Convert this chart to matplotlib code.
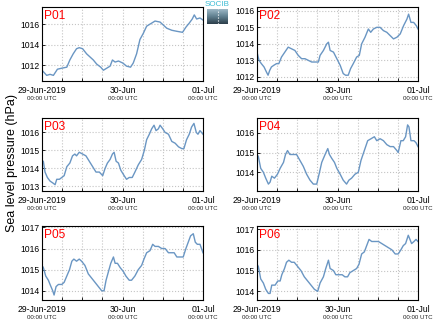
import datetime as dt

import matplotlib.dates as mdates
import matplotlib.pyplot as plt
import numpy as np
from matplotlib.colors import LinearSegmentedColormap

plt.rcParams["font.family"] = ["Liberation Sans", "DejaVu Sans"]

START = dt.datetime(2019, 6, 29)
station_names = ["P01", "P02", "P03", "P04", "P05", "P06"]

# hours since 29-Jun-2019 00:00 UTC, and sea level pressure (hPa)
p01_hours = [0.0, 1.4, 2.4, 3.4, 4.6, 5.9, 7.4, 8.3, 9.3, 10.3, 11.1, 12.1, 13.3, 14.3,
             15.3, 16.3, 17.5, 18.3, 19.3, 20.3, 21.0, 21.8, 22.8, 24.1, 25.2, 26.4,
             27.2, 28.2, 29.2, 30.2, 31.2, 32.7, 33.7, 35.2, 36.2, 37.2, 38.7, 40.2,
             41.9, 42.9, 43.9, 44.8, 45.4, 46.1, 47.1, 48.0]
p01_slp = [1011.5, 1011.0, 1011.1, 1011.0, 1011.6, 1011.7, 1011.8, 1012.5, 1013.1,
           1013.6, 1013.7, 1013.6, 1013.1, 1012.8, 1012.5, 1012.1, 1011.8, 1011.5,
           1011.7, 1011.9, 1012.5, 1012.3, 1012.4, 1012.2, 1011.9, 1011.8, 1012.2,
           1013.1, 1014.5, 1015.1, 1015.8, 1016.1, 1016.3, 1016.2, 1015.9, 1015.6,
           1015.4, 1015.3, 1015.2, 1015.7, 1016.1, 1016.5, 1016.9, 1016.5, 1016.6,
           1016.4]

p02_hours = [0.0, 0.6, 1.3, 2.1, 2.8, 3.3, 3.8, 4.3, 5.0, 5.8, 6.5, 7.3, 8.3, 9.3, 10.3,
             11.3, 12.3, 13.3, 14.3, 15.3, 16.3, 17.3, 18.3, 18.8, 19.8, 20.8, 21.3,
             21.8, 22.8, 23.8, 24.8, 25.7, 26.4, 27.2, 27.9, 28.7, 29.7, 30.5, 31.2,
             32.2, 33.2, 33.9, 34.7, 35.7, 36.7, 37.7, 38.7, 39.7, 40.7, 41.7, 42.7,
             43.7, 44.7, 45.2, 45.9, 46.7, 47.5, 48.0]
p02_slp = [1013.5, 1013.0, 1012.8, 1012.6, 1012.3, 1012.1, 1012.4, 1012.6, 1012.7,
           1012.8, 1012.8, 1013.2, 1013.5, 1013.8, 1013.7, 1013.6, 1013.3, 1013.1,
           1013.1, 1013.0, 1012.9, 1012.9, 1012.9, 1013.3, 1013.6, 1014.0, 1014.1,
           1013.6, 1013.5, 1013.1, 1012.7, 1012.2, 1012.1, 1012.1, 1012.5, 1012.8,
           1013.2, 1013.3, 1014.0, 1014.4, 1014.9, 1014.7, 1014.9, 1015.0, 1015.0,
           1014.8, 1014.7, 1014.5, 1014.3, 1014.4, 1014.6, 1015.1, 1015.5, 1015.8,
           1015.3, 1015.3, 1015.1, 1014.9]

p03_hours = [0.0, 0.4, 0.9, 1.6, 2.4, 3.2, 3.9, 4.4, 5.2, 5.9, 6.6, 7.4, 8.3, 9.1, 9.8,
             10.3, 11.1, 12.1, 13.1, 14.1, 15.1, 16.1, 17.1, 18.1, 18.8, 19.5, 20.3,
             21.0, 21.5, 22.1, 22.8, 23.5, 24.5, 25.2, 26.0, 26.9, 27.7, 28.7, 29.7,
             30.5, 31.2, 32.0, 32.7, 33.4, 34.0, 34.7, 35.2, 36.0, 36.7, 37.7, 38.7,
             39.7, 40.7, 41.7, 42.3, 43.1, 43.9, 44.6, 45.3, 46.0, 46.5, 47.1, 48.0]
p03_slp = [1014.4, 1014.4, 1013.8, 1013.5, 1013.3, 1013.2, 1013.1, 1013.4, 1013.4,
           1013.5, 1013.6, 1014.1, 1014.3, 1014.7, 1014.8, 1014.7, 1014.9, 1014.8,
           1014.7, 1014.4, 1014.1, 1013.8, 1013.8, 1013.6, 1014.0, 1014.3, 1014.5,
           1014.8, 1014.9, 1014.4, 1014.3, 1013.9, 1013.6, 1013.4, 1013.5, 1013.5,
           1013.8, 1014.2, 1014.5, 1015.0, 1015.6, 1015.9, 1016.2, 1016.4, 1016.1,
           1016.2, 1016.4, 1016.2, 1016.0, 1015.9, 1015.5, 1015.4, 1015.2, 1015.1,
           1015.1, 1015.6, 1015.9, 1016.3, 1016.5, 1016.0, 1015.9, 1016.1, 1015.9]

p04_hours = [0.0, 0.4, 1.1, 1.9, 2.6, 3.4, 3.9, 4.4, 5.2, 6.1, 6.9, 7.9, 8.5, 9.1, 9.8,
             10.8, 11.8, 12.8, 13.8, 14.8, 15.8, 16.8, 17.8, 18.5, 19.3, 20.3, 21.1,
             21.6, 22.3, 23.1, 23.8, 24.8, 25.7, 26.7, 27.4, 28.2, 29.2, 30.2, 31.0,
             32.0, 33.0, 34.0, 35.0, 35.7, 36.7, 37.7, 38.7, 39.7, 40.7, 41.7, 42.1,
             42.9, 43.6, 44.3, 44.9, 45.3, 45.9, 46.8, 47.4, 48.0]
p04_slp = [1014.9, 1014.8, 1014.2, 1014.0, 1013.7, 1013.4, 1013.5, 1013.8, 1013.7,
           1013.9, 1014.2, 1014.5, 1014.9, 1015.1, 1014.9, 1014.9, 1014.9, 1014.6,
           1014.3, 1013.9, 1013.6, 1013.4, 1013.4, 1013.9, 1014.5, 1014.9, 1015.2,
           1014.9, 1014.7, 1014.5, 1014.2, 1013.9, 1013.6, 1013.4, 1013.6, 1013.7,
           1013.9, 1014.0, 1014.6, 1015.1, 1015.6, 1015.7, 1015.8, 1015.6, 1015.7,
           1015.6, 1015.4, 1015.3, 1015.3, 1015.1, 1015.0, 1015.6, 1015.6, 1015.8,
           1016.4, 1016.3, 1015.6, 1015.6, 1015.5, 1015.3]

p05_hours = [0.0, 0.4, 1.1, 1.9, 2.4, 3.2, 3.6, 4.2, 4.9, 5.9, 6.6, 7.4, 8.2, 8.9, 9.5,
             10.3, 11.1, 11.8, 12.8, 13.8, 14.8, 15.8, 16.8, 17.8, 18.5, 19.1, 19.8,
             20.5, 21.3, 21.8, 22.5, 23.3, 24.3, 25.0, 26.0, 26.7, 27.7, 28.7, 29.7,
             30.4, 31.2, 32.2, 33.0, 33.7, 34.7, 35.7, 36.7, 37.7, 38.7, 39.4, 40.2,
             41.2, 42.1, 42.9, 43.6, 44.3, 45.1, 45.7, 46.3, 47.1, 48.0]
p05_slp = [1015.2, 1015.1, 1014.7, 1014.5, 1014.3, 1014.0, 1013.8, 1014.2, 1014.3,
           1014.3, 1014.4, 1014.7, 1015.0, 1015.4, 1015.5, 1015.4, 1015.5, 1015.4,
           1015.2, 1014.8, 1014.6, 1014.4, 1014.2, 1014.0, 1014.0, 1014.5, 1014.9,
           1015.3, 1015.6, 1015.3, 1015.3, 1015.1, 1014.9, 1014.7, 1014.5, 1014.5,
           1014.7, 1015.0, 1015.2, 1015.5, 1015.8, 1015.9, 1016.2, 1016.1, 1016.1,
           1016.0, 1016.0, 1015.8, 1015.8, 1015.8, 1015.6, 1015.6, 1015.6, 1016.0,
           1016.3, 1016.6, 1016.7, 1016.3, 1016.2, 1016.2, 1015.8]

p06_hours = [0.0, 0.4, 1.1, 1.9, 2.6, 3.4, 3.9, 4.4, 5.4, 6.2, 6.9, 7.4, 8.2, 8.8, 9.5,
             10.3, 11.1, 12.1, 13.1, 14.1, 15.1, 16.1, 17.1, 18.1, 18.8, 19.8, 20.5,
             21.3, 21.8, 22.8, 23.5, 24.5, 25.4, 26.2, 27.0, 27.7, 28.7, 29.7, 30.4,
             31.2, 32.0, 32.7, 33.4, 34.2, 35.2, 36.2, 37.2, 38.2, 39.2, 40.2, 41.2,
             42.1, 42.9, 43.6, 44.3, 45.1, 45.6, 46.1, 46.8, 47.4, 48.0]
p06_slp = [1015.3, 1015.2, 1014.6, 1014.4, 1014.1, 1013.9, 1013.9, 1014.3, 1014.3,
           1014.5, 1014.5, 1014.8, 1015.1, 1015.4, 1015.5, 1015.4, 1015.4, 1015.2,
           1015.0, 1014.7, 1014.5, 1014.3, 1014.1, 1014.0, 1014.4, 1014.7, 1015.1,
           1015.5, 1015.1, 1015.0, 1014.8, 1014.8, 1014.8, 1014.7, 1014.7, 1014.9,
           1015.0, 1015.1, 1015.3, 1015.8, 1015.9, 1016.2, 1016.5, 1016.4, 1016.4,
           1016.4, 1016.3, 1016.2, 1016.1, 1016.0, 1015.8, 1015.8, 1016.0, 1016.2,
           1016.3, 1016.7, 1016.5, 1016.3, 1016.4, 1016.5, 1016.4]

series_hours = [p01_hours, p02_hours, p03_hours, p04_hours, p05_hours, p06_hours]
series_slp = [p01_slp, p02_slp, p03_slp, p04_slp, p05_slp, p06_slp]

y_limits = [(1010.45, 1017.7), (1011.75, 1016.25), (1012.75, 1016.8),
            (1013.05, 1016.75), (1013.55, 1017.08), (1013.57, 1017.16)]
y_ticks = [[1012, 1014, 1016], [1012, 1013, 1014, 1015, 1016],
           [1013, 1014, 1015, 1016], [1014, 1015, 1016],
           [1014, 1015, 1016, 1017], [1014, 1015, 1016, 1017]]
day_labels = ["29-Jun-2019", "30-Jun", "01-Jul"]

LINE_COLOR = "#6a96c3"
W, H = 435, 327

fig = plt.figure(figsize=(W / 100, H / 100), dpi=100)

# axes boxes in pixels: (x0, x1) per column, (y_top, y_bottom) per row
col_x = [(42, 203), (257, 418)]
row_y = [(6.7, 81), (118, 191), (225.7, 300.3)]

for i, name in enumerate(station_names):
    r, c = divmod(i, 2)
    x0, x1 = col_x[c]
    yt, yb = row_y[r]
    ax = fig.add_axes([x0 / W, 1 - yb / H, (x1 - x0) / W, (yb - yt) / H])

    times = [START + dt.timedelta(hours=h) for h in series_hours[i]]
    ax.plot(times, series_slp[i], color=LINE_COLOR, lw=1.0)

    ax.set_xlim(START, START + dt.timedelta(hours=48))
    ax.set_ylim(*y_limits[i])
    ax.set_yticks(y_ticks[i])
    ax.yaxis.set_major_formatter(plt.FormatStrFormatter("%d"))

    ax.xaxis.set_minor_locator(mdates.HourLocator(byhour=[6, 12, 18]))
    ax.set_xticks([START + dt.timedelta(days=d) for d in range(3)])
    ax.set_xticklabels(day_labels)

    ax.tick_params(axis="both", which="both", direction="in", length=2.5,
                   width=0.6, labelsize=6.2, pad=1.8)
    ax.tick_params(axis="x", which="major", pad=3.5)
    ax.grid(True, which="both", color="#c4c4c4", ls=":", lw=0.8)
    for sp in ax.spines.values():
        sp.set_linewidth(0.8)

    for d in range(3):
        ax.text(START + dt.timedelta(days=d), -0.2, "00:00 UTC",
                transform=ax.get_xaxis_transform(), ha="center", va="top",
                fontsize=4.4, color="#222222")

    ax.text(0.012, 0.96, name, transform=ax.transAxes, ha="left", va="top",
            fontsize=8.6, color="red")

fig.text(12 / W, 0.5, "Sea level pressure (hPa)", rotation=90,
         ha="center", va="center", fontsize=9)

# small logo between the top panels
logo = fig.add_axes([207 / W, 1 - 24 / H, 21 / W, 15 / H])
grad = np.linspace(0, 1, 50).reshape(-1, 1)
cmap = LinearSegmentedColormap.from_list("logo", ["#9db8c6", "#5f7f8f", "#2c3e4a"])
logo.imshow(grad, aspect="auto", cmap=cmap)
logo.axvline(0.0, color="white", ls=":", lw=0.8)
logo.set_axis_off()
fig.text(217.5 / W, 1 - 4.5 / H, "SOCIB", ha="center", va="center",
         fontsize=5.8, color="#3cbcd4")

fig.savefig("out.png", dpi=100)
